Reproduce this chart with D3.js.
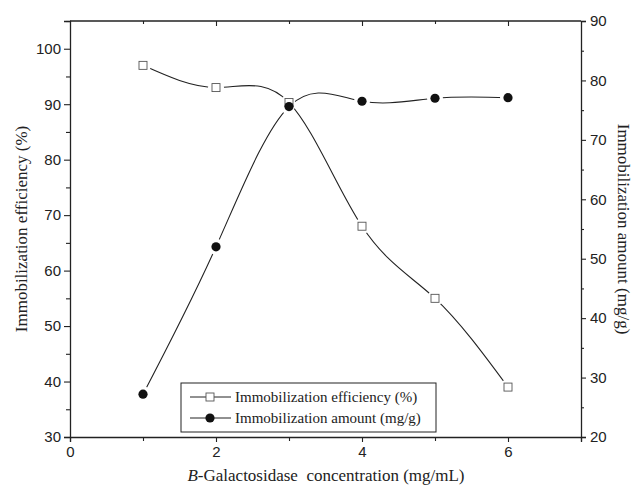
<!DOCTYPE html>
<html>
<head>
<meta charset="utf-8">
<script src="https://cdn.jsdelivr.net/npm/d3@7"></script>
<style>
  body { margin: 0; background: #fff; }
  svg { display: block; }
</style>
</head>
<body>
<svg id="chart" width="635" height="491"></svg>
<script>
// data
var conc = [1, 2, 3, 4, 5, 6];
var efficiency = [97, 93, 90.3, 68, 55, 39];      // %, left axis
var amount = [27.2, 52, 75.6, 76.5, 77, 77.1];    // mg/g, right axis
var xTicks = [0, 2, 4, 6];
var leftTicks = [30, 40, 50, 60, 70, 80, 90, 100];
var rightTicks = [20, 30, 40, 50, 60, 70, 80, 90];

var svg = d3.select("#chart");
var L = 70, R = 581, T = 21, B = 437;
var ink = "#222";

var x = d3.scaleLinear().domain([0, 7]).range([L, R]);
var yL = d3.scaleLinear().domain([30, 105]).range([B, T]);
var yR = d3.scaleLinear().domain([20, 90]).range([B, T]);

// masks cut small gaps round each series' own markers
var defs = svg.append("defs");
function makeMask(id, vals, sc, r) {
    var m = defs.append("mask").attr("id", id);
    m.append("rect").attr("width", 635).attr("height", 491).attr("fill", "white");
    m.selectAll("circle").data(conc).join("circle")
        .attr("cx", d => x(d)).attr("cy", (d, i) => sc(vals[i])).attr("r", r).attr("fill", "black");
}
makeMask("mEff", efficiency, yL, 8);
makeMask("mAmt", amount, yR, 8);

// frame top line
svg.append("line").attr("x1", L).attr("x2", R).attr("y1", T).attr("y2", T)
    .attr("stroke", ink).attr("stroke-width", 1.3);

// axes
var gx = svg.append("g").attr("transform", "translate(0," + B + ")")
    .call(d3.axisBottom(x).tickValues(d3.range(0, 8)).tickSize(5).tickPadding(4)
        .tickFormat(d => xTicks.indexOf(d) >= 0 ? d : ""));
var gxTop = svg.append("g").attr("transform", "translate(0," + T + ")")
    .call(d3.axisBottom(x).tickValues(d3.range(1, 7)).tickSize(5).tickFormat(""));
var gl = svg.append("g").attr("transform", "translate(" + L + ",0)")
    .call(d3.axisLeft(yL).tickValues(d3.range(30, 106, 5)).tickSize(6).tickPadding(3)
        .tickFormat(d => leftTicks.indexOf(d) >= 0 ? d : ""));
var gr = svg.append("g").attr("transform", "translate(" + R + ",0)")
    .call(d3.axisRight(yR).tickValues(d3.range(20, 91, 5)).tickSize(5).tickPadding(4)
        .tickFormat(d => rightTicks.indexOf(d) >= 0 ? d : ""));

[gx, gxTop, gl, gr].forEach(function (g) {
    g.select(".domain").attr("stroke", ink).attr("stroke-width", 1.3);
    g.selectAll(".tick line").attr("stroke", ink).attr("stroke-width", 1.1);
    g.selectAll("text").attr("font-family", "Liberation Sans, Arial, sans-serif")
        .attr("font-size", 15).attr("fill", ink);
});
gxTop.select(".domain").remove();
// minor ticks shorter
gl.selectAll(".tick").filter(d => d % 10 !== 0).select("line").attr("x2", -4);
gr.selectAll(".tick").filter(d => d % 10 !== 0).select("line").attr("x2", 3);
gx.selectAll(".tick").filter(d => d % 2 !== 0).select("line").attr("y2", 4);
gxTop.selectAll(".tick").filter(d => d % 2 !== 0).select("line").attr("y2", 3);

// curves
var lineEff = d3.line().x((d, i) => x(conc[i])).y(d => yL(d)).curve(d3.curveNatural);
var lineAmt = d3.line().x((d, i) => x(conc[i])).y(d => yR(d)).curve(d3.curveNatural);

svg.append("path").attr("d", lineEff(efficiency)).attr("fill", "none")
    .attr("stroke", ink).attr("stroke-width", 1.1).attr("mask", "url(#mEff)");
svg.append("path").attr("d", lineAmt(amount)).attr("fill", "none")
    .attr("stroke", ink).attr("stroke-width", 1.1).attr("mask", "url(#mAmt)");

// markers
svg.selectAll("rect.eff").data(efficiency).join("rect").attr("class", "eff")
    .attr("x", (d, i) => x(conc[i]) - 4).attr("y", d => yL(d) - 4)
    .attr("width", 8).attr("height", 8)
    .attr("fill", "#fff").attr("stroke", "#555").attr("stroke-width", 0.9);
svg.selectAll("circle.amt").data(amount).join("circle").attr("class", "amt")
    .attr("cx", (d, i) => x(conc[i])).attr("cy", d => yR(d)).attr("r", 4.6)
    .attr("fill", "#111");

// legend
var lg = svg.append("g");
lg.append("rect").attr("x", 181).attr("y", 383).attr("width", 255).attr("height", 49)
    .attr("fill", "#fff").attr("stroke", ink).attr("stroke-width", 1);
var items = [
    { label: "Immobilization efficiency (%)", kind: "sq" },
    { label: "Immobilization amount (mg/g)", kind: "ci" }
];
items.forEach(function (it, i) {
    var cy = 397 + i * 21;
    if (it.kind === "sq") {
        lg.append("line").attr("x1", 190).attr("x2", 206).attr("y1", cy).attr("y2", cy).attr("stroke", ink);
        lg.append("line").attr("x1", 214).attr("x2", 231).attr("y1", cy).attr("y2", cy).attr("stroke", ink);
        lg.append("rect").attr("x", 206).attr("y", cy - 4).attr("width", 8).attr("height", 8)
            .attr("fill", "#fff").attr("stroke", "#555").attr("stroke-width", 0.9);
    } else {
        lg.append("line").attr("x1", 190).attr("x2", 231).attr("y1", cy).attr("y2", cy).attr("stroke", ink);
        lg.append("circle").attr("cx", 210).attr("cy", cy).attr("r", 4.6).attr("fill", "#111");
    }
    lg.append("text").attr("x", 235).attr("y", cy + 5).text(it.label)
        .attr("font-family", "Liberation Serif, Times New Roman, serif").attr("font-size", 15).attr("fill", ink);
});

// axis titles
var serif = "Liberation Serif, Times New Roman, serif";
svg.append("text").attr("transform", "translate(27,229) rotate(-90)").attr("text-anchor", "middle")
    .attr("font-family", serif).attr("font-size", 17).attr("fill", ink)
    .text("Immobilization efficiency (%)");
svg.append("text").attr("transform", "translate(618,229) rotate(90)").attr("text-anchor", "middle")
    .attr("font-family", serif).attr("font-size", 17).attr("fill", ink)
    .text("Immobilization amount (mg/g)");
var xt = svg.append("text").attr("x", 326).attr("y", 481).attr("text-anchor", "middle")
    .attr("font-family", serif).attr("font-size", 17).attr("fill", ink);
xt.append("tspan").attr("font-style", "italic").text("B");
xt.append("tspan").attr("xml:space", "preserve").text("-Galactosidase  concentration (mg/mL)");
</script>
</body>
</html>
